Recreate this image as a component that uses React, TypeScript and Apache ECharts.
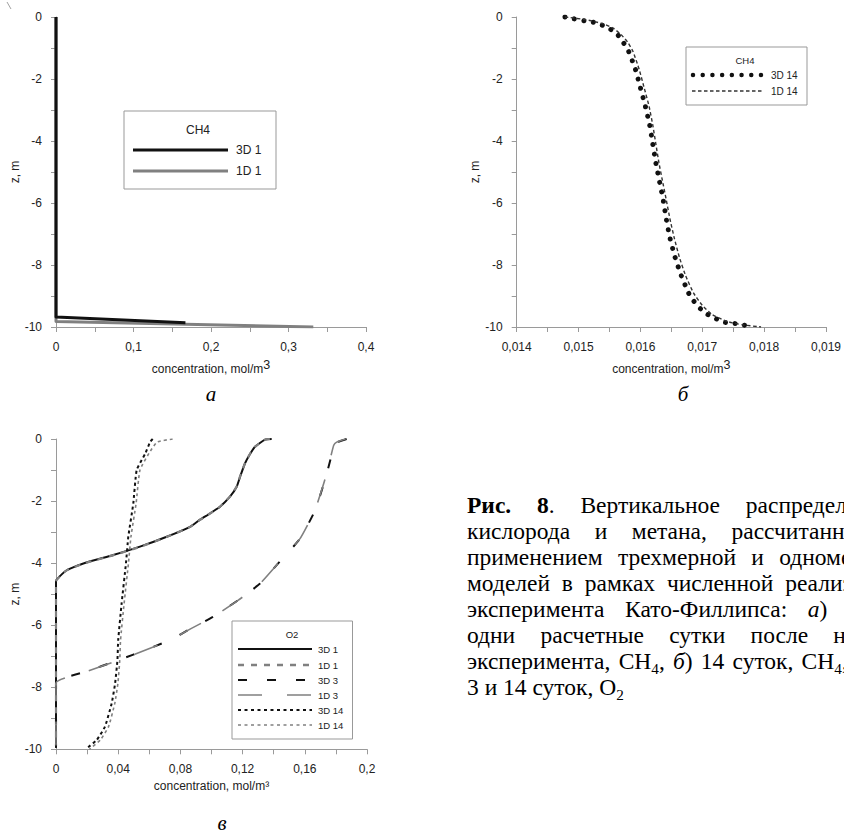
import React, { useEffect, useRef } from "react";
import * as echarts from "echarts";

// ---------- data ----------
// panel а : CH4, 1 day
const a3D1X = [0, 0, 0.167];
const a3D1Z = [0, -9.68, -9.86];
const a1D1X = [0, 0, 0.332];
const a1D1Z = [0, -9.82, -10];

// panel б : CH4, 14 days
const b3D14X = [0.01478, 0.01493, 0.01509, 0.01524, 0.01538, 0.01552, 0.01564, 0.01573, 0.01581, 0.01592, 0.016, 0.01608, 0.01615, 0.0162, 0.01625, 0.01631, 0.01637, 0.01642, 0.01648, 0.01656, 0.01666, 0.01678, 0.01686, 0.01697, 0.01709, 0.01723, 0.01737, 0.01753, 0.01768, 0.01783];
const b3D14Z = [0, -0.06, -0.12, -0.17, -0.26, -0.4, -0.59, -0.84, -1.11, -1.69, -2.28, -2.88, -3.49, -4.1, -4.71, -5.32, -5.92, -6.54, -7.15, -7.75, -8.34, -8.91, -9.16, -9.41, -9.6, -9.74, -9.85, -9.89, -9.94, -9.98];
const b1D14X = [0.01478, 0.0151, 0.0154, 0.01556, 0.01569, 0.0158, 0.01588, 0.01598, 0.01606, 0.01614, 0.0162, 0.01625, 0.0163, 0.01636, 0.01642, 0.01648, 0.01655, 0.01663, 0.01673, 0.01686, 0.017, 0.01716, 0.0174, 0.01765, 0.01795];
const b1D14Z = [0, -0.08, -0.22, -0.36, -0.57, -0.83, -1.11, -1.69, -2.28, -2.88, -3.49, -4.1, -4.71, -5.32, -5.92, -6.54, -7.15, -7.75, -8.34, -8.91, -9.3, -9.6, -9.82, -9.93, -10];

// panel в : O2, 1, 3 and 14 days
const c3D1X = [0.1387, 0.1344, 0.128, 0.1246, 0.1215, 0.1185, 0.1162, 0.112, 0.1055, 0.099, 0.0926, 0.0862, 0.0712, 0.054, 0.0368, 0.0176, 0.0069, 0.0004, 0, 0];
const c3D1Z = [0, -0.02, -0.25, -0.5, -0.79, -1.2, -1.54, -1.85, -2.18, -2.4, -2.6, -2.83, -3.15, -3.47, -3.74, -4.01, -4.23, -4.53, -4.6, -9.95];
const c1D1X = [0.1375, 0.1338, 0.1278, 0.1245, 0.1214, 0.1184, 0.1161, 0.1118, 0.1053, 0.0988, 0.0924, 0.086, 0.071, 0.0538, 0.0366, 0.0174, 0.0067, 0.0003, 0, 0];
const c1D1Z = [0, -0.03, -0.26, -0.5, -0.8, -1.2, -1.54, -1.86, -2.19, -2.41, -2.61, -2.84, -3.16, -3.48, -3.75, -4.02, -4.24, -4.54, -4.6, -9.9];
const c3D3X = [0.1869, 0.181, 0.179, 0.1767, 0.173, 0.1666, 0.157, 0.143, 0.1312, 0.117, 0.101, 0.087, 0.0733, 0.0497, 0.04, 0.019, 0, 0];
const c3D3Z = [0, -0.1, -0.19, -0.62, -1.32, -2.3, -3.21, -4.0, -4.66, -5.2, -5.73, -6.1, -6.48, -6.95, -7.13, -7.5, -7.85, -9.95];
const c1D3X = [0.1862, 0.1805, 0.1786, 0.1764, 0.1728, 0.1664, 0.1568, 0.1428, 0.131, 0.1168, 0.1008, 0.0868, 0.0731, 0.0495, 0.0398, 0.0188, 0, 0];
const c1D3Z = [0, -0.1, -0.2, -0.63, -1.33, -2.31, -3.22, -4.01, -4.67, -5.21, -5.74, -6.11, -6.49, -6.96, -7.14, -7.51, -7.86, -9.9];
const c3D14X = [0.0622, 0.0605, 0.0575, 0.0519, 0.0497, 0.0465, 0.045, 0.0422, 0.04, 0.0395, 0.038, 0.0358, 0.0315, 0.0262, 0.0197];
const c3D14Z = [0, -0.1, -0.46, -1.0, -2.08, -3.15, -4.0, -5.3, -6.48, -7.13, -7.88, -8.52, -9.27, -9.7, -9.97];
const c1D14X = [0.075, 0.065, 0.0598, 0.054, 0.0515, 0.0482, 0.0466, 0.0438, 0.0415, 0.041, 0.0398, 0.0378, 0.0338, 0.0285, 0.0215];
const c1D14Z = [0, -0.1, -0.46, -1.0, -2.08, -3.15, -4.0, -5.3, -6.48, -7.13, -7.88, -8.52, -9.27, -9.7, -10];

// axes
const zRange = [-10, 0];
const zStep = 2;
const aXRange = [0, 0.4];
const aXStep = 0.1;
const bXRange = [0.014, 0.019];
const bXStep = 0.001;
const cXRange = [0, 0.2];
const cXStep = 0.04;

// texts
const legendA = ["3D 1", "1D 1"];
const legendB = ["3D 14", "1D 14"];
const legendC = ["3D 1", "1D 1", "3D 3", "1D 3", "3D 14", "1D 14"];
// ^ toggles bold, _ toggles italic, ~ toggles subscript
const captionLines = [
  "^Рис.^ ^8^. Вертикальное распределение",
  "кислорода и метана, рассчитанное с",
  "применением трехмерной и одномерной",
  "моделей в рамках численной реализации",
  "эксперимента Като-Филлипса: _а_) через",
  "одни расчетные сутки после начала",
  "эксперимента, CH~4~, _б_) 14 суток, CH~4~, _в_)",
  "3 и 14 суток, O~2~",
];
// right edge of the (partly hidden) justified column, per line
const captionRight = [893, 902, 900, 900, 902, 900, 874, 0];

const CAP = { x0: 467, y0: 505, step: 26, size: 23.5, clip: 844 };

const zip = (xs: number[], zs: number[]) => xs.map((x, i) => [x, zs[i]]);
const fmt = (v: number) => String(+v.toFixed(4)).replace(".", ",");

const AX = "#9a9a9a";
const LBL = "#222";
const FONT = "Liberation Sans, Arial, sans-serif";
const SERIF = "Liberation Serif, Times New Roman, serif";

type Seg = { t: string; b: boolean; i: boolean; s: boolean };
function parseWord(w: string): Seg[] {
  const segs: Seg[] = [];
  let b = false, it = false, s = false, cur = "";
  const push = () => { if (cur) segs.push({ t: cur, b, i: it, s }); cur = ""; };
  for (const ch of w) {
    if (ch === "^") { push(); b = !b; }
    else if (ch === "_") { push(); it = !it; }
    else if (ch === "~") { push(); s = !s; }
    else cur += ch;
  }
  push();
  return segs;
}

function captionGraphics() {
  const canvas = document.createElement("canvas");
  const ctx = canvas.getContext("2d")!;
  const f = CAP.size;
  const fontOf = (g: Seg) => `${g.i ? "italic " : ""}${g.b ? "bold " : ""}${g.s ? f * 0.65 : f}px "Liberation Serif"`;
  const measure = (g: Seg) => { ctx.font = fontOf(g); return ctx.measureText(g.t).width; };
  ctx.font = `${f}px "Liberation Serif"`;
  const space = ctx.measureText(" ").width;
  const out: any[] = [];
  captionLines.forEach((line, li) => {
    const words = line.split(" ").map(parseWord);
    const widths = words.map((ws) => ws.reduce((a, g) => a + measure(g), 0));
    const total = widths.reduce((a, b) => a + b, 0);
    const right = captionRight[li];
    const gap = !right || words.length < 2 ? space : (right - CAP.x0 - total) / (words.length - 1);
    const y = CAP.y0 + li * CAP.step;
    let x = CAP.x0;
    words.forEach((ws, wi) => {
      let sx = x;
      ws.forEach((g) => {
        if (sx < CAP.clip - 2) {
          out.push({
            type: "text",
            x: sx,
            y: g.s ? y + f * 0.3 : y,
            style: {
              text: g.t,
              fontSize: g.s ? f * 0.65 : f,
              fontWeight: g.b ? "bold" : "normal",
              fontStyle: g.i ? "italic" : "normal",
              fontFamily: SERIF,
              fill: "#000",
              align: "left",
              verticalAlign: "middle",
            },
          });
        }
        sx += measure(g);
      });
      x += widths[wi] + gap;
    });
  });
  return out;
}

function xAxis(gi: number, range: number[], step: number, name: string, rich: boolean) {
  return {
    type: "value",
    gridIndex: gi,
    min: range[0],
    max: range[1],
    interval: step,
    name,
    nameLocation: "middle",
    nameGap: 31,
    nameTextStyle: {
      color: LBL,
      fontSize: 12,
      fontFamily: FONT,
      rich: rich ? { s: { fontSize: 12.5, fontFamily: FONT, color: LBL, padding: [0, 0, 8, 0] } } : undefined,
    },
    axisLine: { show: true, onZero: false, lineStyle: { color: AX, width: 1 } },
    axisTick: { show: true, length: 5, lineStyle: { color: AX } },
    minorTick: { show: true, splitNumber: 2, length: 5, lineStyle: { color: AX } },
    splitLine: { show: false },
    axisLabel: { margin: 14, color: LBL, fontSize: 12, fontFamily: FONT, formatter: fmt },
  };
}
function yAxis(gi: number) {
  return {
    type: "value",
    gridIndex: gi,
    min: zRange[0],
    max: zRange[1],
    interval: zStep,
    name: "z, m",
    nameLocation: "middle",
    nameGap: 34,
    nameRotate: 90,
    nameTextStyle: { color: LBL, fontSize: 12, fontFamily: FONT },
    axisLine: { show: true, onZero: false, lineStyle: { color: AX, width: 1 } },
    axisTick: { show: true, length: 5, lineStyle: { color: AX } },
    minorTick: { show: true, splitNumber: 2, length: 5, lineStyle: { color: AX } },
    splitLine: { show: false },
    axisLabel: { margin: 14, color: LBL, fontSize: 12, fontFamily: FONT },
  };
}
function ser(name: string, gi: number, data: number[][], color: string, width: number, dash: any, cap = "butt", smooth: any = 0.15) {
  return {
    type: "line",
    name,
    xAxisIndex: gi,
    yAxisIndex: gi,
    data,
    showSymbol: false,
    symbol: "none",
    smooth,
    lineStyle: { color, width, type: dash, cap, join: "round" },
    z: 2,
  };
}

function legendLine(x1: number, x2: number, y: number, color: string, width: number, dash: any, cap = "butt") {
  return {
    type: "line",
    shape: { x1, y1: y, x2, y2: y },
    style: { stroke: color, lineWidth: width, lineDash: dash, lineCap: cap },
    z: 10,
  };
}
function legendText(x: number, y: number, text: string, size: number, align = "left") {
  return {
    type: "text",
    x,
    y,
    style: { text, fill: LBL, fontSize: size, fontFamily: FONT, align, verticalAlign: "middle" },
    z: 10,
  };
}

export default function App() {
  const ref = useRef<HTMLDivElement>(null);
  useEffect(() => {
    if (!ref.current) return;
    const chart = echarts.init(ref.current, null, { renderer: "svg" });
    const BLACK = "#111";
    const GRAY = "#808080";
    const option: any = {
      animation: false,
      backgroundColor: "#fff",
      grid: [
        { left: 56, top: 17, width: 310, height: 310 },
        { left: 516.7, top: 17, width: 309.3, height: 310 },
        { left: 56, top: 439, width: 311, height: 310.3 },
      ],
      xAxis: [
        xAxis(0, aXRange, aXStep, "concentration, mol/m{s|3}", true),
        xAxis(1, bXRange, bXStep, "concentration, mol/m{s|3}", true),
        xAxis(2, cXRange, cXStep, "concentration, mol/m³", false),
      ],
      yAxis: [yAxis(0), yAxis(1), yAxis(2)],
      series: [
        ser("1D 1", 0, zip(a1D1X, a1D1Z), GRAY, 3, "solid", "butt", false),
        ser("3D 1", 0, zip(a3D1X, a3D1Z), BLACK, 3, "solid", "butt", false),
        ser("3D 14", 1, zip(b3D14X, b3D14Z), BLACK, 5, [0.01, 9.6], "round"),
        ser("1D 14", 1, zip(b1D14X, b1D14Z), "#333", 1.4, [3.5, 2.5]),
        ser("3D 1", 2, zip(c3D1X, c3D1Z), BLACK, 2, "solid"),
        ser("1D 1", 2, zip(c1D1X, c1D1Z), GRAY, 2.2, [6, 6]),
        ser("3D 3", 2, zip(c3D3X, c3D3Z), BLACK, 2, [9, 20]),
        ser("1D 3", 2, zip(c1D3X, c1D3Z), GRAY, 1.6, [24, 25]),
        ser("3D 14", 2, zip(c3D14X, c3D14Z), BLACK, 2, [3, 3]),
        ser("1D 14", 2, zip(c1D14X, c1D14Z), GRAY, 1.6, [3, 3]),
      ],
      graphic: [
        // stray scan mark
        { type: "line", shape: { x1: 7, y1: 2, x2: 11, y2: 9 }, style: { stroke: "#888", lineWidth: 0.8 } },
        // legend а
        { type: "rect", shape: { x: 124, y: 111, width: 152, height: 78 }, style: { fill: "#fff", stroke: "#999", lineWidth: 1 }, z: 9 },
        legendText(198, 130, "CH4", 12, "center"),
        legendLine(133, 228, 150, BLACK, 3, null),
        legendText(236, 150, legendA[0], 12),
        legendLine(133, 228, 171, GRAY, 3, null),
        legendText(236, 171, legendA[1], 12),
        // legend б
        { type: "rect", shape: { x: 686, y: 47, width: 121, height: 58 }, style: { fill: "#fff", stroke: "#999", lineWidth: 1 }, z: 9 },
        legendText(745, 60, "CH4", 9.5, "center"),
        legendLine(693, 763, 75, BLACK, 4.5, [0.01, 9.7], "round"),
        legendText(771, 75, legendB[0], 10),
        legendLine(692, 763, 91, "#333", 1.3, [3.5, 2.5]),
        legendText(771, 91, legendB[1], 10),
        // legend в
        { type: "rect", shape: { x: 232, y: 621, width: 120.5, height: 118 }, style: { fill: "#fff", stroke: "#999", lineWidth: 1 }, z: 9 },
        legendText(292, 634, "O2", 9.5, "center"),
        legendLine(238, 312, 649, BLACK, 2, null),
        legendText(318, 649, legendC[0], 9.5),
        legendLine(238, 312, 665, GRAY, 2.5, [6, 7]),
        legendText(318, 665, legendC[1], 9.5),
        legendLine(238, 312, 680, BLACK, 2, [9, 20]),
        legendText(318, 680, legendC[2], 9.5),
        legendLine(238, 312, 695, GRAY, 1.5, [24, 25]),
        legendText(318, 695, legendC[3], 9.5),
        legendLine(238, 312, 710, BLACK, 2, [3, 3.5]),
        legendText(318, 710, legendC[4], 9.5),
        legendLine(238, 312, 725, GRAY, 1.5, [3, 3.5]),
        legendText(318, 725, legendC[5], 9.5),
        // panel letters
        { type: "text", x: 211, y: 394, style: { text: "а", fontSize: 21, fontStyle: "italic", fontFamily: SERIF, fill: "#000", align: "center", verticalAlign: "middle" } },
        { type: "text", x: 683, y: 394, style: { text: "б", fontSize: 21, fontStyle: "italic", fontFamily: SERIF, fill: "#000", align: "center", verticalAlign: "middle" } },
        { type: "text", x: 222, y: 823, style: { text: "в", fontSize: 21, fontStyle: "italic", fontFamily: SERIF, fill: "#000", align: "center", verticalAlign: "middle" } },
        // caption
        ...captionGraphics(),
      ],
    };
    chart.setOption(option);
    return () => chart.dispose();
  }, []);
  return (
    <div
      ref={ref}
      style={{ position: "absolute", left: 0, top: 0, width: 844, height: 837, background: "#fff" }}
    />
  );
}
